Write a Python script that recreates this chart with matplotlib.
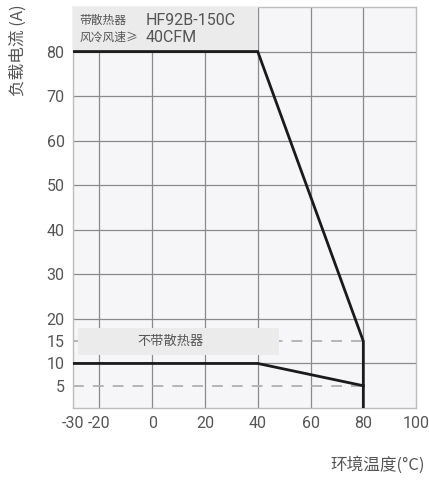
import matplotlib.pyplot as plt
from matplotlib.patches import Rectangle

# Data
TEMP_WITH_HS = [-30, 40, 80, 80]
CURRENT_WITH_HS = [80, 80, 15, 0]
TEMP_NO_HS = [-30, 40, 80]
CURRENT_NO_HS = [10, 10, 5]
DASH_LEVELS = [5, 15]
DASH_END = 80

X_TICKS = [-30, -20, 0, 20, 40, 60, 80, 100]
Y_TICKS = [5, 10, 15, 20, 30, 40, 50, 60, 70, 80]
X_GRID = [-20, 0, 20, 40, 60, 80]
Y_GRID = [10, 20, 30, 40, 50, 60, 70, 80]

CJK = ['Noto Sans CJK SC', 'DejaVu Sans']
NUM = ['Roboto', 'Noto Sans CJK SC']
TXT = '#555555'


def main():
    fig = plt.figure(figsize=(4.29, 4.82), dpi=100)
    ax = fig.add_axes([0.170, 0.1535, 0.800, 0.832])
    ax.set_facecolor('#f6f6f9')
    ax.set_xlim(-30, 100)
    ax.set_ylim(0, 90)

    # grid
    for gx in X_GRID:
        ax.axvline(gx, color='#8a8a8a', lw=0.9, zorder=1)
    for gy in Y_GRID:
        ax.axhline(gy, color='#8a8a8a', lw=0.9, zorder=1)

    # dashed reference lines
    for lvl in DASH_LEVELS:
        ax.plot([-30, DASH_END], [lvl, lvl], color='#b0b0b0', lw=1.3,
                dashes=(6, 5), zorder=2)

    # label boxes
    ax.add_patch(Rectangle((-30, 80), 70, 10, facecolor='#ebebeb',
                           edgecolor='none', zorder=3))
    ax.add_patch(Rectangle((-28, 12), 76, 6, facecolor='#ebebeb',
                           edgecolor='none', zorder=3))

    ax.text(-27.5, 87.0, '带散热器', family=CJK, fontsize=8.5, color=TXT,
            va='center', zorder=4)
    ax.text(-27.5, 83.2, '风冷风速≥', family=CJK, fontsize=8.5, color=TXT,
            va='center', zorder=4)
    ax.text(-2.5, 87.0, 'HF92B-150C', family=NUM, fontsize=11.5, color=TXT,
            va='center', zorder=4)
    ax.text(-2.5, 83.2, '40CFM', family=NUM, fontsize=11.5, color=TXT,
            va='center', zorder=4)
    ax.text(7, 15, '不带散热器', family=CJK, fontsize=9.5, color=TXT,
            va='center', ha='center', zorder=4)

    # derating curves
    ax.plot(TEMP_WITH_HS, CURRENT_WITH_HS, color='#1a1a1a', lw=2.0,
            zorder=5, solid_joinstyle='miter')
    ax.plot(TEMP_NO_HS, CURRENT_NO_HS, color='#1a1a1a', lw=2.0,
            zorder=5, solid_joinstyle='miter')

    ax.set_xticks(X_TICKS)
    ax.set_yticks(Y_TICKS)
    ax.set_xticklabels([str(v) for v in X_TICKS], family=NUM, fontsize=11.5, color=TXT)
    ax.set_yticklabels([str(v) for v in Y_TICKS], family=NUM, fontsize=11.5, color=TXT)
    ax.tick_params(length=0, pad=6)
    for s in ax.spines.values():
        s.set_color('#bdbdbd')
        s.set_linewidth(1.0)

    fig.text(0.042, 0.99, '负载电流 (A)', family=CJK, fontsize=12, color=TXT,
             rotation=90, ha='center', va='top')
    fig.text(0.99, 0.035, '环境温度(°C)', family=CJK, fontsize=12, color=TXT,
             ha='right', va='center')

    plt.savefig('out.png', dpi=100)


if __name__ == "__main__":
    main()
